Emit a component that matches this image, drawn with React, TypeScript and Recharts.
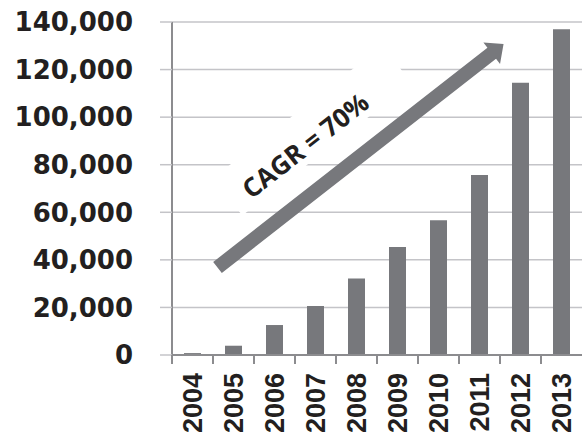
import React from "react";
import { BarChart, Bar, XAxis, YAxis, CartesianGrid } from "recharts";

const BAR = "#77787c";
const GRID = "#c4c4c8";
const AXIS = "#8c8c8f";

const years = ["2004", "2005", "2006", "2007", "2008", "2009", "2010", "2011", "2012", "2013"];
const values = [800, 3900, 12600, 20600, 32200, 45400, 56600, 75700, 114500, 136900];
const yTicks = [0, 20000, 40000, 60000, 80000, 100000, 120000, 140000];

const data = years.map((year, i) => ({ year, value: values[i] }));

function XTick(props: any) {
  const { x, y, payload } = props;
  const half = payload && payload.offset ? payload.offset : 20.5;
  return (
    <g>
      <line x1={x - half} y1={y} x2={x - half} y2={y + 9} stroke={AXIS} strokeWidth={2} />
      <text
        transform={`translate(${x},${y + 18}) rotate(-90)`}
        textAnchor="end"
        dy="0.36em"
        fill="#231f20"
        style={{ fontFamily: "Liberation Sans", fontWeight: 700, fontSize: 27 }}
      >
        {payload.value}
      </text>
    </g>
  );
}

export default function App() {
  return (
    <div style={{ position: "fixed", left: 0, top: 0, width: 582, height: 436, background: "#fff", overflow: "hidden" }}>
      <BarChart width={582} height={436} data={data} margin={{ top: 22, right: 0, left: 0, bottom: 0 }} barSize={17}>
        <CartesianGrid vertical={false} stroke={GRID} strokeWidth={1.5} />
        <XAxis
          dataKey="year"
          height={81}
          tickSize={0}
          tickMargin={0}
          tickLine={false}
          axisLine={{ stroke: AXIS, strokeWidth: 2 }}
          tick={<XTick />}
          interval={0}
        />
        <YAxis
          width={172}
          domain={[0, 140000]}
          ticks={yTicks}
          interval={0}
          tickSize={12}
          tickMargin={27}
          tickLine={{ stroke: GRID, strokeWidth: 1.5 }}
          axisLine={{ stroke: AXIS, strokeWidth: 2 }}
          tickFormatter={(v: number) => v.toLocaleString("en-US")}
          tick={{ fill: "#231f20", fontFamily: "DejaVu Sans", fontWeight: 700, fontSize: 26 }}
        />
        <Bar dataKey="value" fill={BAR} isAnimationActive={false} />
      </BarChart>
      {/* CAGR arrow annotation */}
      <svg width={582} height={436} style={{ position: "absolute", left: 0, top: 0, pointerEvents: "none" }}>
        <rect x={312.4 - 107.5} y={130.6 - 23.75} width={215} height={47.5} fill="#fff"
          transform="rotate(-38 312.4 130.6)" />
        <g transform="translate(217.5,267.5) rotate(-38)">
          <polygon points="0,-7 348,-7 348,-13.5 363,0 348,13.5 348,7 0,7" fill={BAR} />
        </g>
        <text x={305} y={145} textAnchor="middle" dominantBaseline="central" transform="rotate(-38 305 145)"
          fill="#231f20" style={{ fontFamily: "Open Sans", fontWeight: 700, fontSize: 26 }}>
          CAGR = 70%
        </text>
      </svg>
    </div>
  );
}
